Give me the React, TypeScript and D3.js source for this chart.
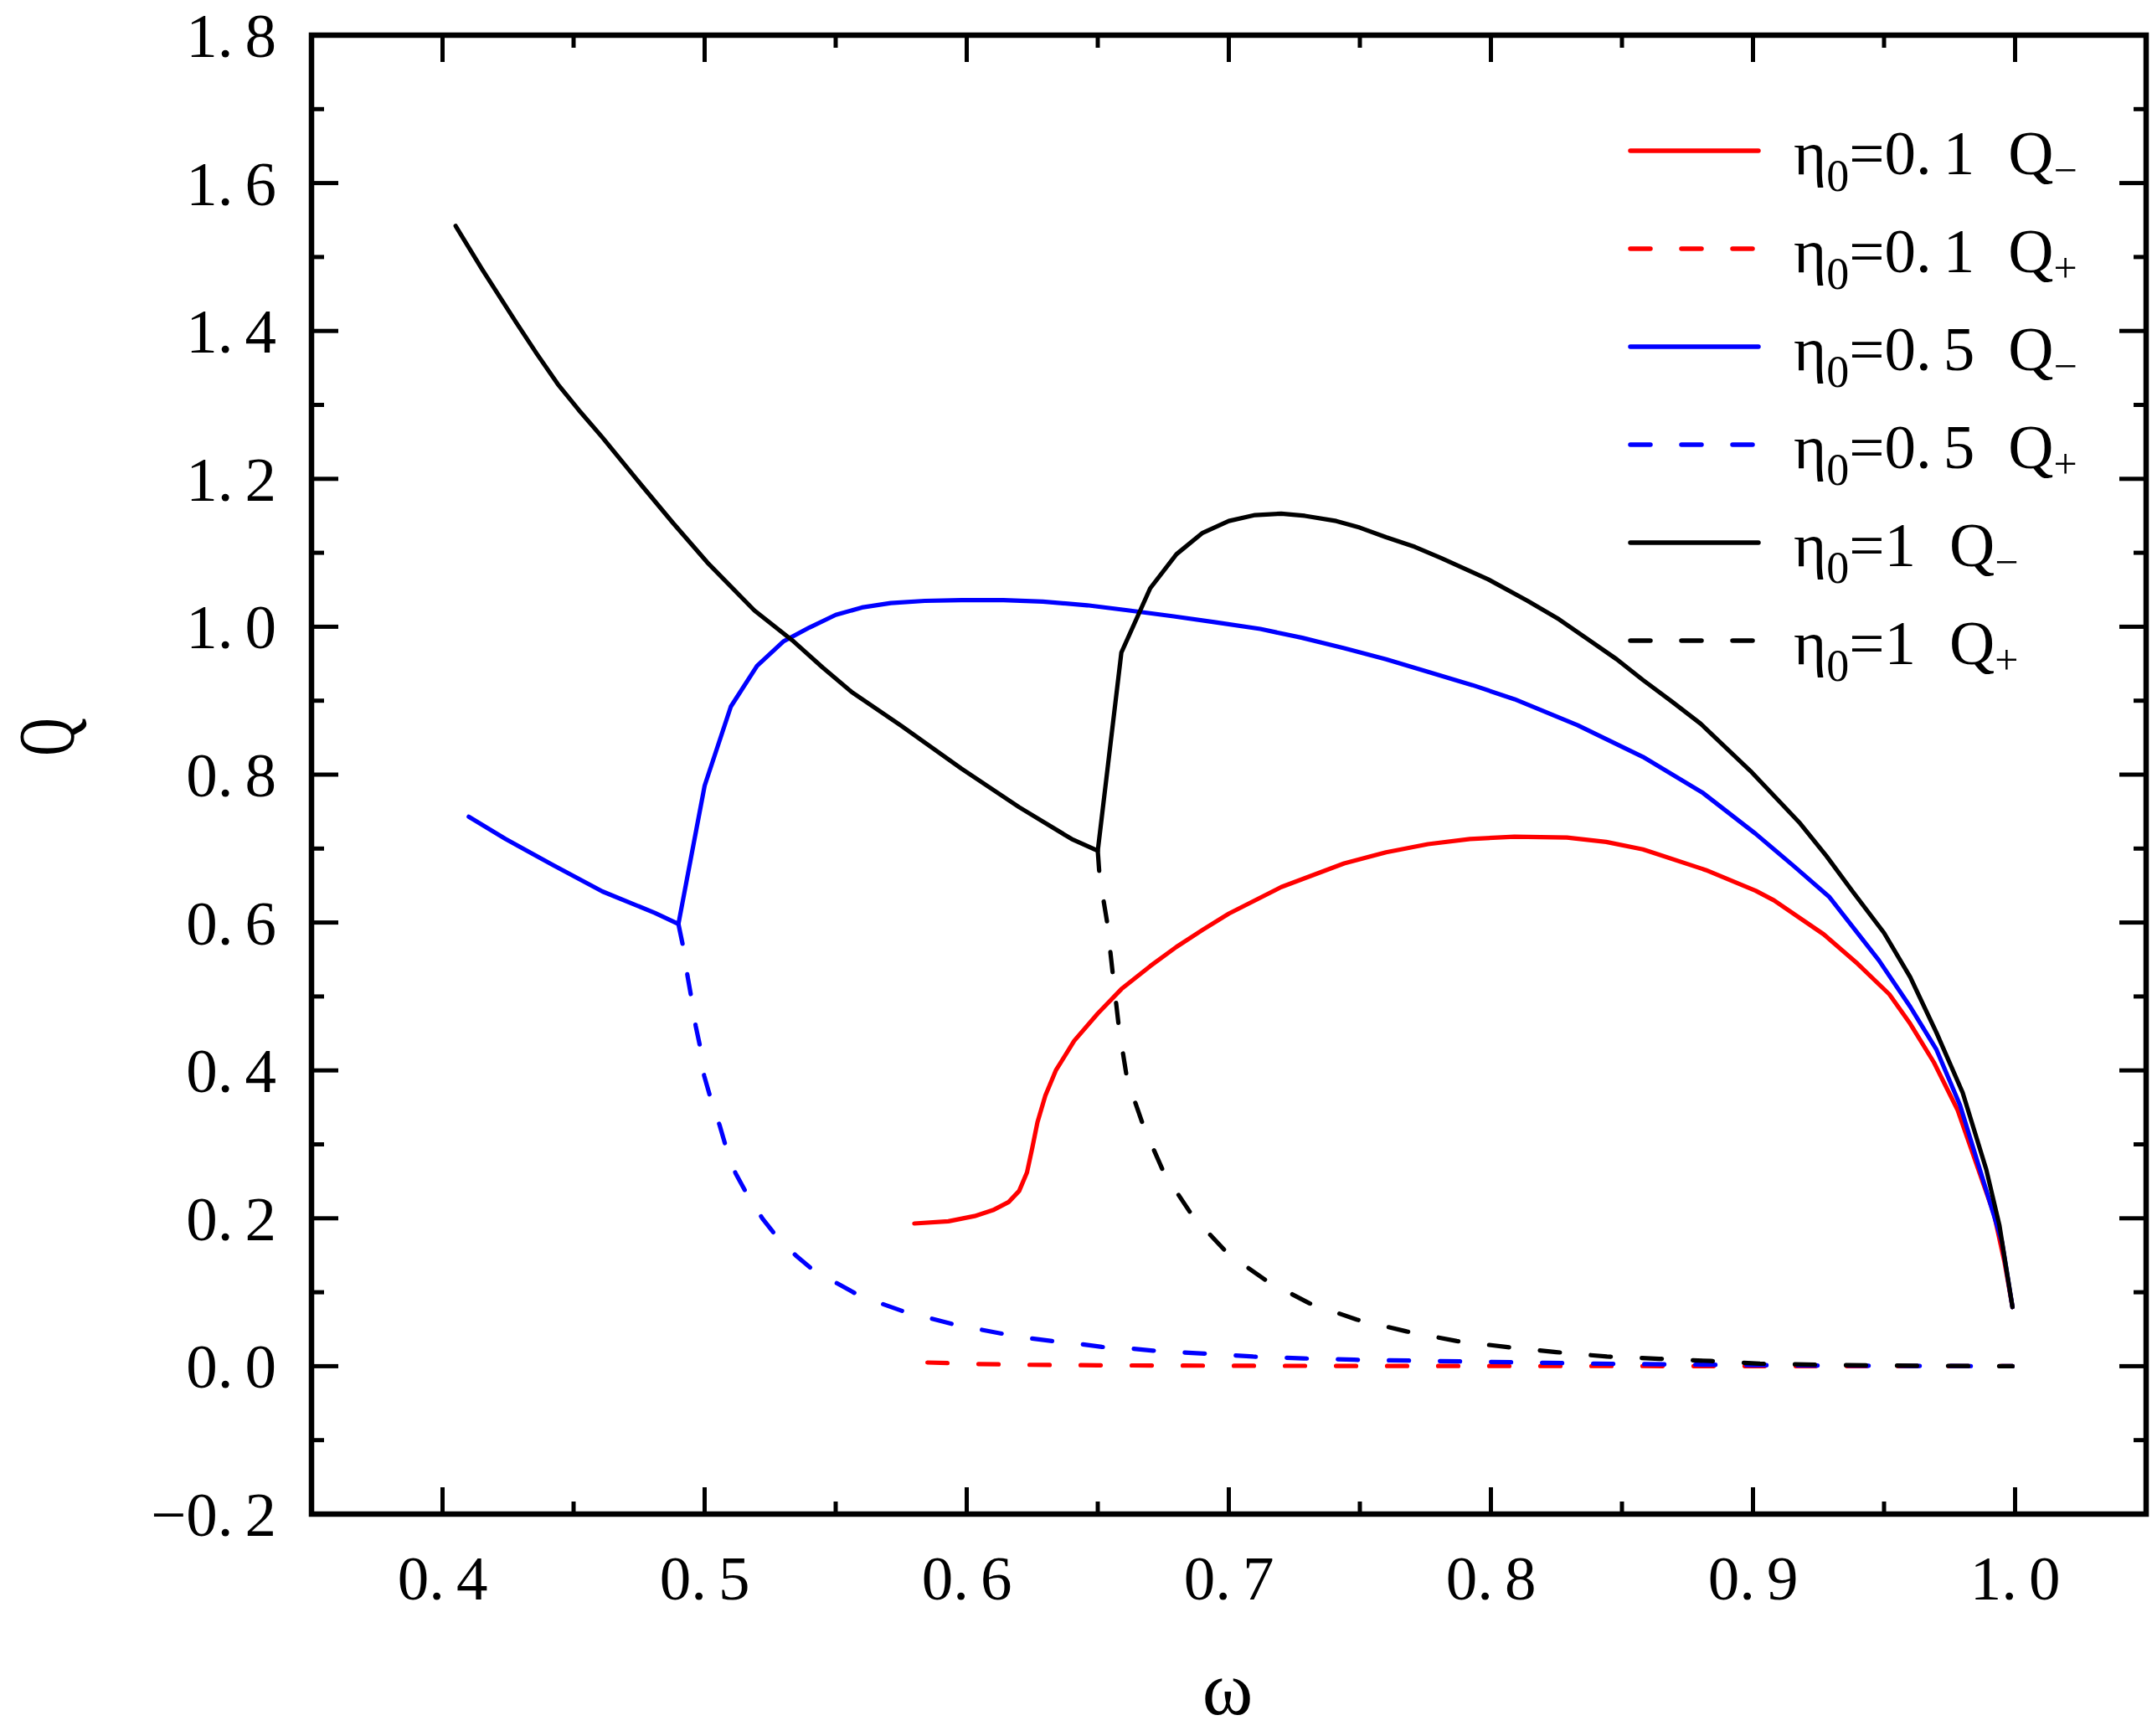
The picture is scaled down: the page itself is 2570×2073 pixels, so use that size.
import React from 'react';
import * as d3 from 'd3';

// omega / Q readings for each branch
const redMinus: [number, number][] = [
  [0.580, 0.193], [0.593, 0.196], [0.603, 0.203], [0.610, 0.211], [0.616, 0.222],
  [0.620, 0.237], [0.623, 0.262], [0.625, 0.295], [0.627, 0.330], [0.630, 0.366],
  [0.634, 0.400], [0.641, 0.440], [0.650, 0.477], [0.659, 0.510], [0.670, 0.541],
  [0.680, 0.567], [0.690, 0.590], [0.700, 0.612], [0.720, 0.648], [0.744, 0.680],
  [0.760, 0.695], [0.776, 0.706], [0.792, 0.713], [0.809, 0.716], [0.829, 0.715],
  [0.844, 0.709], [0.858, 0.699], [0.882, 0.671], [0.901, 0.643], [0.908, 0.630],
  [0.927, 0.584], [0.940, 0.544], [0.952, 0.503], [0.960, 0.463], [0.969, 0.411],
  [0.978, 0.347], [0.986, 0.266], [0.992, 0.205], [0.996, 0.140], [0.999, 0.080],
];

const redPlus: [number, number][] = [
  [0.585, 0.005], [0.604, 0.003], [0.620, 0.002], [0.650, 0.0012], [0.700, 0.0006],
  [0.750, 0.0003], [0.800, 0.0002], [0.900, 0.0001], [0.999, 0.0],
];

const blueMinus: [number, number][] = [
  [0.410, 0.743], [0.424, 0.713], [0.442, 0.678], [0.461, 0.642], [0.481, 0.613],
  [0.490, 0.598], [0.500, 0.785], [0.510, 0.892], [0.520, 0.947], [0.530, 0.980],
  [0.540, 0.999], [0.550, 1.016], [0.560, 1.026], [0.571, 1.032], [0.584, 1.035],
  [0.598, 1.036], [0.614, 1.036], [0.629, 1.034], [0.646, 1.029], [0.662, 1.022],
  [0.679, 1.014], [0.695, 1.006], [0.712, 0.997], [0.728, 0.985], [0.744, 0.971],
  [0.760, 0.956], [0.776, 0.939], [0.793, 0.921], [0.809, 0.902], [0.833, 0.867],
  [0.858, 0.824], [0.881, 0.775], [0.901, 0.720], [0.916, 0.675], [0.929, 0.635],
  [0.948, 0.549], [0.960, 0.486], [0.970, 0.428], [0.979, 0.353], [0.989, 0.238],
  [0.995, 0.168], [0.999, 0.080],
];

const bluePlus: [number, number][] = [
  [0.490, 0.598], [0.492, 0.564], [0.4935, 0.527], [0.495, 0.497], [0.4966, 0.460],
  [0.4984, 0.430], [0.4998, 0.393], [0.5023, 0.362], [0.5057, 0.326], [0.5081, 0.297],
  [0.5118, 0.261], [0.5161, 0.233], [0.522, 0.200], [0.5273, 0.176], [0.535, 0.149],
  [0.5414, 0.130], [0.5506, 0.112], [0.5582, 0.097], [0.568, 0.084], [0.5759, 0.074],
  [0.586, 0.065], [0.5946, 0.057], [0.6046, 0.050], [0.6135, 0.044], [0.6235, 0.038],
  [0.6327, 0.034], [0.6431, 0.030], [0.6516, 0.026], [0.6622, 0.024], [0.6711, 0.021],
  [0.6906, 0.017], [0.7093, 0.013], [0.7285, 0.0105], [0.7479, 0.0087], [0.770, 0.0075],
  [0.800, 0.0058], [0.820, 0.0046], [0.840, 0.0035], [0.870, 0.0024], [0.900, 0.0015],
  [0.930, 0.0008], [0.960, 0.0004], [0.999, 0.0],
];

const blackMinus: [number, number][] = [
  [0.405, 1.542], [0.415, 1.484], [0.428, 1.412], [0.436, 1.369], [0.444, 1.328],
  [0.452, 1.293], [0.461, 1.256], [0.476, 1.191], [0.488, 1.140], [0.501, 1.087],
  [0.519, 1.022], [0.534, 0.980], [0.545, 0.945], [0.556, 0.912], [0.575, 0.866],
  [0.598, 0.808], [0.620, 0.756], [0.640, 0.713], [0.650, 0.697],
  [0.659, 0.965], [0.670, 1.052], [0.680, 1.098], [0.690, 1.127], [0.700, 1.143],
  [0.710, 1.151], [0.720, 1.153], [0.729, 1.150], [0.741, 1.143], [0.750, 1.134],
  [0.760, 1.121], [0.771, 1.108], [0.781, 1.093], [0.799, 1.064], [0.814, 1.035],
  [0.826, 1.010], [0.837, 0.983], [0.848, 0.956], [0.858, 0.928], [0.869, 0.899],
  [0.880, 0.869], [0.899, 0.805], [0.918, 0.734], [0.928, 0.690], [0.938, 0.642],
  [0.950, 0.586], [0.960, 0.526], [0.970, 0.451], [0.980, 0.370], [0.989, 0.266],
  [0.994, 0.191], [0.999, 0.080],
];

const blackPlus: [number, number][] = [
  [0.650, 0.697], [0.6507, 0.662], [0.6535, 0.602], [0.6559, 0.525], [0.6581, 0.457],
  [0.6612, 0.388], [0.6675, 0.324], [0.6753, 0.261], [0.6862, 0.203], [0.6997, 0.152],
  [0.7146, 0.115], [0.7308, 0.085], [0.7488, 0.063], [0.7678, 0.047], [0.787, 0.034],
  [0.8057, 0.026], [0.8249, 0.019], [0.8443, 0.013], [0.8642, 0.010], [0.8839, 0.007],
  [0.9027, 0.0034], [0.932, 0.0015], [0.9655, 0.0006], [0.999, 0.0],
];

const series = [
  { eta: ['0.', '1'], sub: '−', color: '#ff0000', dashed: false, data: redMinus },
  { eta: ['0.', '1'], sub: '+', color: '#ff0000', dashed: true, data: redPlus },
  { eta: ['0.', '5'], sub: '−', color: '#0000ff', dashed: false, data: blueMinus },
  { eta: ['0.', '5'], sub: '+', color: '#0000ff', dashed: true, data: bluePlus },
  { eta: ['1'], sub: '−', color: '#000000', dashed: false, data: blackMinus },
  { eta: ['1'], sub: '+', color: '#000000', dashed: true, data: blackPlus },
];

const xTicks = [0.4, 0.5, 0.6, 0.7, 0.8, 0.9, 1.0];
const xMinor = [0.45, 0.55, 0.65, 0.75, 0.85, 0.95];
const yTicks = [-0.2, 0, 0.2, 0.4, 0.6, 0.8, 1.0, 1.2, 1.4, 1.6, 1.8];
const yMinor = [-0.1, 0.1, 0.3, 0.5, 0.7, 0.9, 1.1, 1.3, 1.5, 1.7];

const W = 2570;
const H = 2073;
const FONT = '"Liberation Serif", "Times New Roman", serif';

const splitLabel = (v: number) => {
  const s = v.toFixed(1);
  const neg = s.startsWith('-');
  const [a, b] = s.replace('-', '').split('.');
  return { head: (neg ? '−' : '') + a + '.', tail: b };
};

export default function App() {
  const left = 372, right = 2563, top = 42, bottom = 1808;
  const x = d3.scaleLinear().domain([0.35, 1.05]).range([left, right]);
  const y = d3.scaleLinear().domain([-0.2, 1.8]).range([bottom, top]);
  const line = d3.line<[number, number]>().x(d => x(d[0])).y(d => y(d[1]));

  const major = 32, minor = 15, tickW = 5;
  const lw = 5.2;
  const dash = '24 37';

  return (
    <svg width={W} height={H} viewBox={`0 0 ${W} ${H}`}
      style={{ position: 'absolute', left: 0, top: 0, background: '#fff' }} fontFamily={FONT}>
      <rect x={0} y={0} width={W} height={H} fill="#fff" />

      {/* curves */}
      {series.map((s, i) => (
        <path key={i} d={line(s.data) ?? ''} fill="none" stroke={s.color} strokeWidth={lw}
          strokeLinecap="round" strokeLinejoin="round"
          strokeDasharray={s.dashed ? dash : undefined} />
      ))}

      {/* ticks, all inward */}
      <g stroke="#000" strokeWidth={tickW}>
        {xTicks.map(t => (
          <g key={`xt${t}`}>
            <line x1={x(t)} x2={x(t)} y1={bottom} y2={bottom - major} />
            <line x1={x(t)} x2={x(t)} y1={top} y2={top + major} />
          </g>
        ))}
        {xMinor.map(t => (
          <g key={`xm${t}`}>
            <line x1={x(t)} x2={x(t)} y1={bottom} y2={bottom - minor} />
            <line x1={x(t)} x2={x(t)} y1={top} y2={top + minor} />
          </g>
        ))}
        {yTicks.map(t => (
          <g key={`yt${t}`}>
            <line x1={left} x2={left + major} y1={y(t)} y2={y(t)} />
            <line x1={right} x2={right - major} y1={y(t)} y2={y(t)} />
          </g>
        ))}
        {yMinor.map(t => (
          <g key={`ym${t}`}>
            <line x1={left} x2={left + minor} y1={y(t)} y2={y(t)} />
            <line x1={right} x2={right - minor} y1={y(t)} y2={y(t)} />
          </g>
        ))}
      </g>

      {/* frame */}
      <rect x={left} y={top} width={right - left} height={bottom - top}
        fill="none" stroke="#000" strokeWidth={6.5} />

      {/* tick labels */}
      <g fontSize={75} fill="#000">
        {xTicks.map(t => {
          const l = splitLabel(t);
          return (
            <text key={`xl${t}`} x={x(t)} y={1910} textAnchor="middle">
              <tspan>{l.head}</tspan><tspan dx={14}>{l.tail}</tspan>
            </text>
          );
        })}
        {yTicks.map(t => {
          const l = splitLabel(t);
          return (
            <text key={`yl${t}`} x={330} y={y(t) + 26} textAnchor="end">
              <tspan>{l.head}</tspan><tspan dx={14}>{l.tail}</tspan>
            </text>
          );
        })}
      </g>

      {/* axis titles */}
      <text transform="translate(88,880) rotate(-90) scale(0.65,1)" textAnchor="middle" fontSize={96}>Q</text>
      <text x={1466} y={2047} textAnchor="middle" fontSize={92}>ω</text>

      {/* legend */}
      {series.map((s, i) => {
        const ly = 180 + i * 117;
        return (
          <g key={`lg${i}`}>
            <line x1={1947} x2={2100} y1={ly} y2={ly} stroke={s.color} strokeWidth={5.5}
              strokeLinecap="round" strokeDasharray={s.dashed ? dash : undefined} />
            <text x={2142} y={ly + 28} fontSize={75}>
              η<tspan fontSize={54} dy={20}>0</tspan>
              <tspan dy={-20}>={s.eta[0]}</tspan>
              {s.eta.length > 1 && <tspan dx={14}>{s.eta[1]}</tspan>}
              <tspan dx={40}>Q</tspan>
              <tspan fontSize={50} dy={12}>{s.sub}</tspan>
            </text>
          </g>
        );
      })}
    </svg>
  );
}
